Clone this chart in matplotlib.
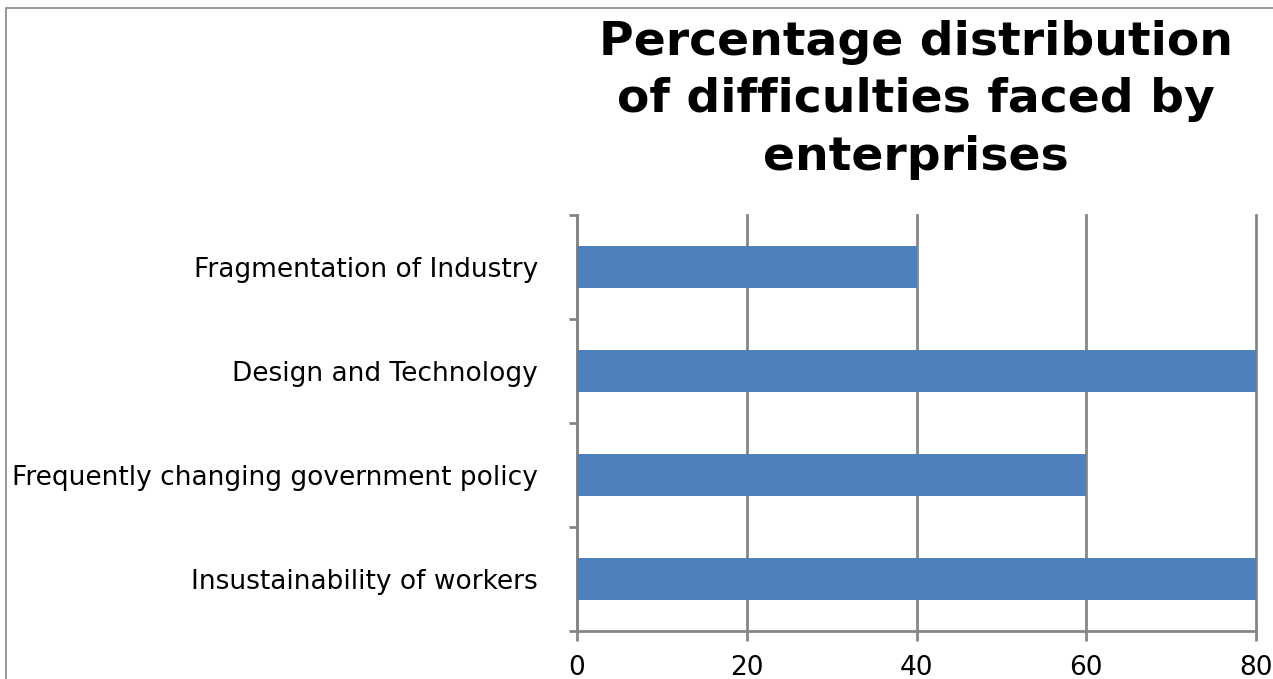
import matplotlib.pyplot as plt
from matplotlib.patches import Rectangle

# Data (top to bottom as displayed)
categories = [
    "Fragmentation of Industry",
    "Design and Technology",
    "Frequently changing government policy",
    "Insustainability of workers",
]
values = [40, 80, 60, 80]
xticks = [0, 20, 40, 60, 80]

W, H = 1273, 679
fig = plt.figure(figsize=(W / 100, H / 100), dpi=100)
ax = fig.add_axes([577 / W, 1 - 631 / H, (1256 - 577) / W, (631 - 215) / H])

grey = "#868686"
n = len(categories)
ypos = [n - 1 - i for i in range(n)]
ax.barh(ypos, values, height=0.4, color="#4F81BD", zorder=3)

ax.set_xlim(0, 80)
ax.set_ylim(-0.5, n - 0.5)
ax.set_xticks(xticks)
ax.set_xticklabels([str(t) for t in xticks], fontsize=19)
ax.set_yticks(ypos)
ax.set_yticklabels(categories, fontsize=19)
ax.tick_params(axis="y", length=0, pad=28)
ax.tick_params(axis="x", length=7, width=2, color=grey, pad=10)
# category separator ticks on y axis
ax.set_yticks([k - 0.5 for k in range(n + 1)], minor=True)
ax.tick_params(axis="y", which="minor", length=6, width=2, color=grey)

ax.grid(True, axis="x", color=grey, linewidth=2, zorder=0)
for gl in ax.get_xgridlines():
    gl.set_clip_on(False)
for s in ["top", "right"]:
    ax.spines[s].set_visible(False)
for s in ["left", "bottom"]:
    ax.spines[s].set_color(grey)
    ax.spines[s].set_linewidth(2)

fig.text(916 / W, 1 - 100 / H,
         "Percentage distribution\nof difficulties faced by\nenterprises",
         ha="center", va="center", fontsize=34, fontweight="bold",
         linespacing=1.37)

# outer chart border
fig.patches.append(Rectangle((6 / W, -0.1), 1.2, 1.1 - 8 / H,
                             transform=fig.transFigure, fill=False,
                             edgecolor=grey, linewidth=1.2))

fig.savefig("out.png", dpi=100)
